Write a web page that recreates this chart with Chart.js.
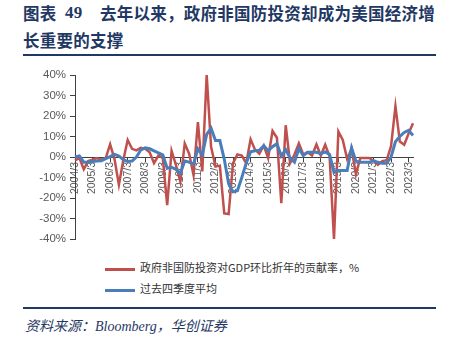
<!DOCTYPE html>
<html>
<head>
<meta charset="utf-8">
<script src="https://cdn.jsdelivr.net/npm/chart.js@4"></script>
<style>
    body { margin: 0; width: 449px; height: 345px; background: #fff; position: relative; overflow: hidden; }
    .title { position: absolute; left: 23px; color: #1f3864; font: bold 16.5px "Noto Sans CJK SC", sans-serif; line-height: 20px; letter-spacing: 0.25px; white-space: nowrap; }
    .title .num { font-family: "Liberation Serif", serif; font-size: 17px; position: absolute; left: 42px; top: 0; }
    .title .rest { position: absolute; left: 77px; top: 0; }
    .rule { position: absolute; left: 23px; width: 413px; background: #1f3864; }
    #wrap { position: absolute; left: 0; top: 60px; width: 449px; height: 190px; }
    .legend { position: absolute; left: 105px; font: 11px "Noto Sans CJK SC", sans-serif; color: #333; }
    .legend span.line { display: inline-block; width: 30px; height: 3px; vertical-align: middle; margin-right: 5px; }
    .source { position: absolute; left: 25px; top: 315px; color: #1f3864; font: italic 14px "Liberation Serif", "Noto Sans CJK SC", serif; }
</style>
</head>
<body>
<div class="title" style="top:3px;">图表<span class="num">49</span><span class="rest">去年以来，政府非国防投资却成为美国经济增</span></div>
<div class="title" style="top:30px;">长重要的支撑</div>
<div class="rule" style="top:54px;height:2px;"></div>
<div id="wrap"><canvas id="chart"></canvas></div>
<div class="legend" style="top:259px;"><span class="line" style="background:#c0504d"></span>政府非国防投资对GDP环比折年的贡献率，%</div>
<div class="legend" style="top:280px;"><span class="line" style="background:#4a7ebb"></span>过去四季度平均</div>
<div class="rule" style="top:307px;height:2px;"></div>
<div class="source">资料来源：Bloomberg，华创证券</div>
<script>
// quarters 2004Q1 .. 2023Q2
const quarters = [
    '2004/3', '2004/6', '2004/9', '2004/12', '2005/3', '2005/6', '2005/9', '2005/12',
    '2006/3', '2006/6', '2006/9', '2006/12', '2007/3', '2007/6', '2007/9', '2007/12',
    '2008/3', '2008/6', '2008/9', '2008/12', '2009/3', '2009/6', '2009/9', '2009/12',
    '2010/3', '2010/6', '2010/9', '2010/12', '2011/3', '2011/6', '2011/9', '2011/12',
    '2012/3', '2012/6', '2012/9', '2012/12', '2013/3', '2013/6', '2013/9', '2013/12',
    '2014/3', '2014/6', '2014/9', '2014/12', '2015/3', '2015/6', '2015/9', '2015/12',
    '2016/3', '2016/6', '2016/9', '2016/12', '2017/3', '2017/6', '2017/9', '2017/12',
    '2018/3', '2018/6', '2018/9', '2018/12', '2019/3', '2019/6', '2019/9', '2019/12',
    '2020/3', '2020/6', '2020/9', '2020/12', '2021/3', '2021/6', '2021/9', '2021/12',
    '2022/3', '2022/6', '2022/9', '2022/12', '2023/3', '2023/6',
];

// contribution of non-defense gov investment, %
const contribution = [
    -1.6, -0.5, -6, -2, -1.3, -0.5, -1.3, -0.5,
    6.2, -1, -13.5, -1.6, 8.3, 4, 3.2, 4.5,
    4, 2.3, -3, 0.7, -0.5, -23.5, 3, -4,
    -12, 6.6, 1.6, -8.8, 17, -7, 40, 5,
    -4.6, -4.2, -27.5, -27.8, -3, 1.2, 0.7, -3,
    8.6, 3.6, 1.6, 5.6, -0.5, 12.7, 9.4, -22.5,
    15.5, -3, 1.2, 6.6, 1.2, 2.3, 0.7, 6.1,
    0.7, 6, 0.3, -40, 12.4, 8.3, -1, 4,
    -8.5, -0.5, -0.5, -0.5, -1.8, -3.8, -2, -1.6,
    5.3, 24.8, 7.5, 6, 11.5, 16.5,
];

// trailing 4-quarter average
const avg4q = [
    0, 0.5, -2.5, -2.5, -2.2, -2, -1.8, -0.8,
    0.2, 1.3, 0.5, -1.3, -2.2, -2, 0, 3.5,
    4.5, 4, 3, 2, 1, -5.5, -5, -6,
    -8, -2, -2.5, -3.5, 4, 1, 11, 14,
    8, 8, -1, -13, -17, -16.5, -10, -3,
    2.5, 3, 3.3, 5.5, 3, 5, 6.5, 0.5,
    3.6, -0.5, -2.5, 4, 0.7, 2.3, 2.3, 2.3,
    1.6, 2.5, 1.2, -7.5, -6.6, -6.6, -6.6, 4.5,
    -2, -2.6, -2.6, -2.6, -1.8, -2.6, -3, -3,
    0, 7.5, 10, 12, 13, 10.5,
];

const yTicks = [-40, -30, -20, -10, 0, 10, 20, 30, 40];

const RED = '#c0504d';
const BLUE = '#4a7ebb';
const AXIS = '#404040';
const TEXT = '#595959';

new Chart(document.getElementById('chart'), {
    type: 'line',
    data: {
        labels: quarters,
        datasets: [
            {
                label: '政府非国防投资对GDP环比折年的贡献率，%',
                data: contribution,
                borderColor: RED,
                borderWidth: 2.5,
                pointRadius: 0,
                tension: 0,
                order: 2,
            },
            {
                label: '过去四季度平均',
                data: avg4q,
                borderColor: BLUE,
                borderWidth: 3,
                pointRadius: 0,
                tension: 0,
                order: 1,
            },
        ],
    },
    options: {
        responsive: true,
        maintainAspectRatio: false,
        animation: false,
        layout: { padding: { left: 0, right: 36, top: 15, bottom: 11 } },
        plugins: {
            legend: { display: false },
            tooltip: { enabled: false },
        },
        scales: {
            x: {
                position: { y: 0 },
                offset: false,
                border: { display: true, color: AXIS, width: 1 },
                grid: {
                    drawOnChartArea: false,
                    drawTicks: true,
                    tickLength: 4,
                    color: ctx => (ctx.index % 4 === 0 ? AXIS : 'rgba(0,0,0,0)'),
                },
                ticks: {
                    autoSkip: false,
                    minRotation: 90,
                    maxRotation: 90,
                    padding: 1,
                    color: TEXT,
                    font: { family: "'Liberation Sans Narrow', 'Liberation Sans'", size: 10.5 },
                    callback: (v, i) => (i % 4 === 0 ? quarters[i] : ''),
                },
            },
            y: {
                min: -40,
                max: 40,
                afterFit: s => { s.width = 75; },
                afterBuildTicks: s => { s.ticks = yTicks.map(v => ({ value: v })); },
                border: { display: true, color: AXIS, width: 1 },
                grid: { drawOnChartArea: false, drawTicks: true, tickLength: 5, color: AXIS },
                ticks: {
                    color: TEXT,
                    padding: 4,
                    font: { family: 'Liberation Sans', size: 11.5 },
                    callback: v => v + '%',
                },
            },
        },
    },
});
</script>
</body>
</html>
